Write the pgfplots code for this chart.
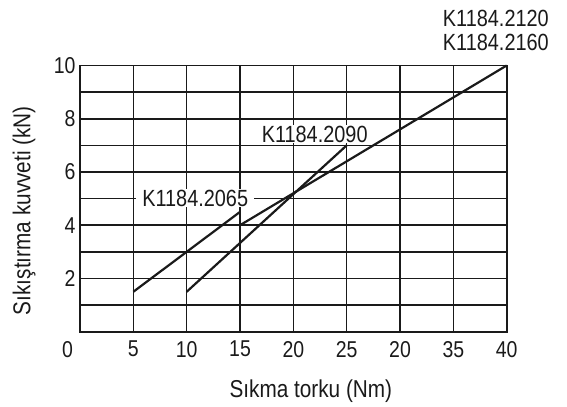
\documentclass[border=0pt]{standalone}
\usepackage{fontspec}
\setmainfont{Liberation Sans}[FakeStretch=0.85]
\usepackage{pgfplots}
\pgfplotsset{compat=1.18}
\definecolor{ink}{HTML}{1A1A1A}
\begin{document}
\begin{tikzpicture}
\begin{axis}[
  at={(0,0)}, anchor=south west,
  scale only axis,
  width=426.7bp, height=266.2bp,
  xmin=0, xmax=40, ymin=0, ymax=10,
  xtick={5,10,...,40},
  xticklabels={5,10,15,20,25,20,35,40},
  extra x ticks={0},
  extra x tick labels={0},
  extra x tick style={grid=none, xticklabel style={xshift=-12.5bp}},
  ytick={1,2,...,9},
  yticklabels={,2,,4,,6,,8,},
  extra y ticks={10},
  extra y tick labels={10},
  extra y tick style={grid=none},
  major tick length=0pt,
  grid=major,
  grid style={ink, line width=1.6bp},
  axis line style={ink, line width=1.8bp},
  /pgf/number format/assume math mode=true,
  tick label style={font=\fontsize{23}{24}\selectfont, text=ink},
  xticklabel style={yshift=-6bp},
  yticklabel style={xshift=-1bp},
  xlabel={Sıkma torku (Nm)},
  ylabel={Sıkıştırma kuvveti (kN)},
  label style={font=\fontsize{24.5}{26}\selectfont, text=ink},
  xlabel style={at={(axis description cs:0.541,-0.223)}, anchor=center},
  ylabel style={at={(axis description cs:-0.131,0.4545)}, anchor=center},
  clip=false,
]
\addplot[ink, line width=2.2bp] coordinates {(5,1.5) (15,4.5)};
\addplot[ink, line width=2.2bp] coordinates {(10,1.5) (25,7)};
\addplot[ink, line width=2.2bp] coordinates {(15,4) (40,10)};
\node[fill=white, inner xsep=6bp, inner ysep=1bp, text=ink, font=\fontsize{23.5}{24}\selectfont] at (axis cs:10.8,5.02) {K1184.2065};
\node[fill=white, inner xsep=3bp, inner ysep=1bp, text=ink, font=\fontsize{23.5}{24}\selectfont] at (axis cs:22.0,7.42) {K1184.2090};
\end{axis}
\node[anchor=base east, inner sep=0pt, text=ink, font=\fontsize{23.5}{24}\selectfont] at (469bp,304.7bp) {K1184.2120};
\node[anchor=base east, inner sep=0pt, text=ink, font=\fontsize{23.5}{24}\selectfont] at (469bp,280.7bp) {K1184.2160};
\pgfresetboundingbox
\path (-80bp,-75.3bp) rectangle (487bp,331.7bp);
\end{tikzpicture}
\end{document}
